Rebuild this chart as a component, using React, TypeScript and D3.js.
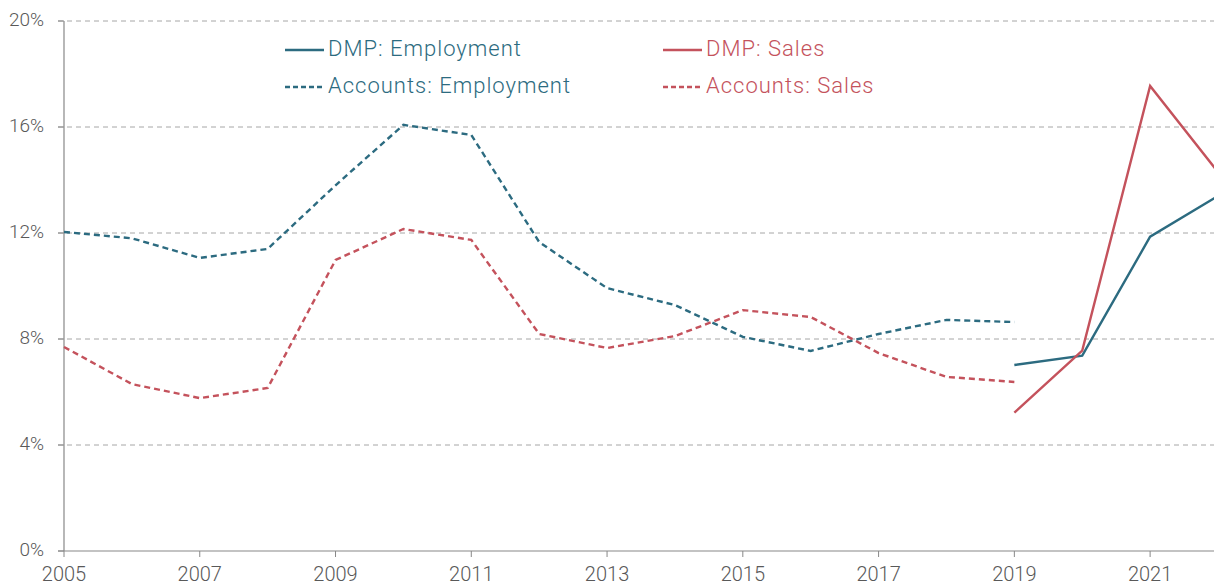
import React from 'react';
import * as d3 from 'd3';

// Years on the axis
const years = d3.range(2005, 2023);
const xTicks = [2005, 2007, 2009, 2011, 2013, 2015, 2017, 2019, 2021];
const yTicks = [0, 4, 8, 12, 16, 20];

// Series (percent)
const accountsEmployment: [number, number][] = [
    [2005, 12.04], [2006, 11.8], [2007, 11.06], [2008, 11.4], [2009, 13.8],
    [2010, 16.08], [2011, 15.7], [2012, 11.66], [2013, 9.92], [2014, 9.28],
    [2015, 8.08], [2016, 7.55], [2017, 8.19], [2018, 8.72], [2019, 8.64],
];
const accountsSales: [number, number][] = [
    [2005, 7.7], [2006, 6.3], [2007, 5.77], [2008, 6.15], [2009, 10.98],
    [2010, 12.15], [2011, 11.74], [2012, 8.19], [2013, 7.66], [2014, 8.11],
    [2015, 9.09], [2016, 8.83], [2017, 7.47], [2018, 6.57], [2019, 6.38],
];
const dmpEmployment: [number, number][] = [
    [2019, 7.02], [2020, 7.37], [2021, 11.86], [2022, 13.4],
];
const dmpSales: [number, number][] = [
    [2019, 5.22], [2020, 7.56], [2021, 17.55], [2022, 14.3],
];

const TEAL = '#2c6b80';
const RED = '#c4525c';

const W = 1214;
const H = 585;

export default function App() {
    const x = d3.scaleLinear().domain([years[0], years[years.length - 1]]).range([64, 1218]);
    const y = d3.scaleLinear().domain([0, 20]).range([551, 21]);
    const line = d3.line<[number, number]>().x(d => x(d[0])).y(d => y(d[1]));

    const series = [
        { data: accountsEmployment, color: TEAL, dash: '6,4' },
        { data: accountsSales, color: RED, dash: '6,4' },
        { data: dmpEmployment, color: TEAL, dash: null },
        { data: dmpSales, color: RED, dash: null },
    ];

    const legend = [
        { label: 'DMP: Employment', color: TEAL, dash: null, lx: 285, ly: 50 },
        { label: 'Accounts: Employment', color: TEAL, dash: '5,3', lx: 285, ly: 87 },
        { label: 'DMP: Sales', color: RED, dash: null, lx: 663, ly: 50 },
        { label: 'Accounts: Sales', color: RED, dash: '5,3', lx: 663, ly: 87 },
    ];

    return (
        <svg width={W} height={H} style={{ position: 'absolute', left: 0, top: 0, background: '#fff' }}
            fontFamily="Roboto, sans-serif">
            {/* grid */}
            {yTicks.map(t => (
                <g key={t}>
                    {t > 0 && (
                        <line x1={58} x2={W} y1={y(t)} y2={y(t)} stroke="#a6a6a6" strokeWidth={1} strokeDasharray="5,4" />
                    )}
                    <line x1={58} x2={64} y1={y(t)} y2={y(t)} stroke="#888" />
                    <text x={44} y={y(t) + 5} textAnchor="end" fontSize={19} fill="#595959" fontWeight={300}>{t}%</text>
                </g>
            ))}
            {/* axes */}
            <line x1={64} x2={64} y1={21} y2={551} stroke="#888" strokeWidth={1.2} />
            <line x1={58} x2={W} y1={551} y2={551} stroke="#888" strokeWidth={1.2} />
            {xTicks.map(t => (
                <g key={t}>
                    <line x1={x(t)} x2={x(t)} y1={551} y2={557} stroke="#888" />
                    <text x={x(t)} y={581} textAnchor="middle" fontSize={20} fill="#595959" fontWeight={300}>{t}</text>
                </g>
            ))}
            {/* lines */}
            {series.map((s, i) => (
                <path key={i} d={line(s.data) || ''} fill="none" stroke={s.color} strokeWidth={2.4}
                    strokeDasharray={s.dash || undefined} />
            ))}
            {/* legend */}
            {legend.map(l => (
                <g key={l.label}>
                    <line x1={l.lx} x2={l.lx + 39} y1={l.ly} y2={l.ly} stroke={l.color} strokeWidth={2.4}
                        strokeDasharray={l.dash || undefined} />
                    <text x={l.lx + 43} y={l.ly + 6} fontSize={22} letterSpacing={1} fill={l.color} fontWeight={300}>{l.label}</text>
                </g>
            ))}
        </svg>
    );
}
